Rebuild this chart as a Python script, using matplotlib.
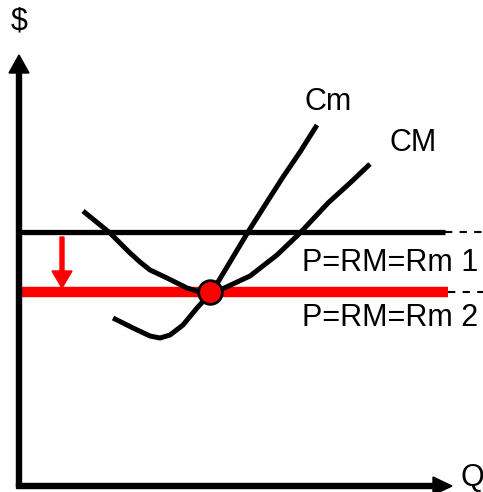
import matplotlib
matplotlib.use('Agg')
import matplotlib.pyplot as plt

plt.rcParams['font.family'] = ['Liberation Sans', 'DejaVu Sans']

# Price levels (before and after the fall)
p1 = 254
p2 = 194

# Average cost curve (CM)
cm_avg_q = [64, 91, 111, 121, 131, 148, 168, 181, 191, 201, 231, 258, 281, 309, 331, 351]
cm_avg_p = [275, 253, 233, 224, 216, 208, 198, 194, 193, 196, 210, 231, 253, 283, 303, 322]

# Marginal cost curve (Cm)
cm_marg_q = [94, 114, 131, 141, 151, 164, 178, 188, 193, 208, 229, 248, 264, 281, 298]
cm_marg_p = [168, 158, 150, 148, 151, 161, 178, 189, 194, 219, 254, 284, 309, 334, 361]

# Equilibrium point
eq_q = 191
eq_p = p2

fig = plt.figure(figsize=(4.83, 4.92), dpi=100)
ax = fig.add_axes([0, 0, 1, 1])
ax.set_xlim(-19, 464)
ax.set_ylim(-6, 486)
ax.axis('off')

# axes with arrows
ax.arrow(0, 0, 0, 431, width=5, head_width=20, head_length=18,
         length_includes_head=True, color='black', zorder=3)
ax.arrow(-2.5, 0, 435.5, 0, width=5, head_width=18, head_length=19,
         length_includes_head=True, color='black', zorder=3)

# price lines
ax.plot([0, 426], [p1, p1], color='black', lw=3.8, solid_capstyle='butt', zorder=2)
ax.plot([426, 464], [p1, p1], color='black', lw=1.5, ls=(0, (3.5, 3.5)))
ax.plot([1, 429], [p2, p2], color='red', lw=7.5, solid_capstyle='butt', zorder=2)
ax.plot([429, 464], [p2, p2], color='black', lw=1.5, ls=(0, (3.5, 3.5)))

# shift arrow
ax.arrow(43, p1 - 5, 0, p2 + 4 - (p1 - 5), width=4, head_width=20, head_length=17,
         length_includes_head=True, color='red', zorder=3)

# cost curves
ax.plot(cm_avg_q, cm_avg_p, color='black', lw=3.6, solid_capstyle='butt',
        solid_joinstyle='round', zorder=4)
ax.plot(cm_marg_q, cm_marg_p, color='black', lw=3.6, solid_capstyle='butt',
        solid_joinstyle='round', zorder=4)

ax.plot([eq_q], [eq_p], 'o', ms=17, mfc='red', mec='black', mew=2, zorder=5)

# labels
fs = 22
ax.text(0, 464, '$', fontsize=fs, ha='center', va='center')
ax.text(453, 8, 'Q', fontsize=fs, ha='center', va='center')
ax.text(309, 384, 'Cm', fontsize=fs, ha='center', va='center')
ax.text(394, 343, 'CM', fontsize=fs, ha='center', va='center')
ax.text(459, 223, 'P=RM=Rm 1', fontsize=fs, ha='right', va='center')
ax.text(459, 168, 'P=RM=Rm 2', fontsize=fs, ha='right', va='center')

fig.savefig('out.png', dpi=100)
